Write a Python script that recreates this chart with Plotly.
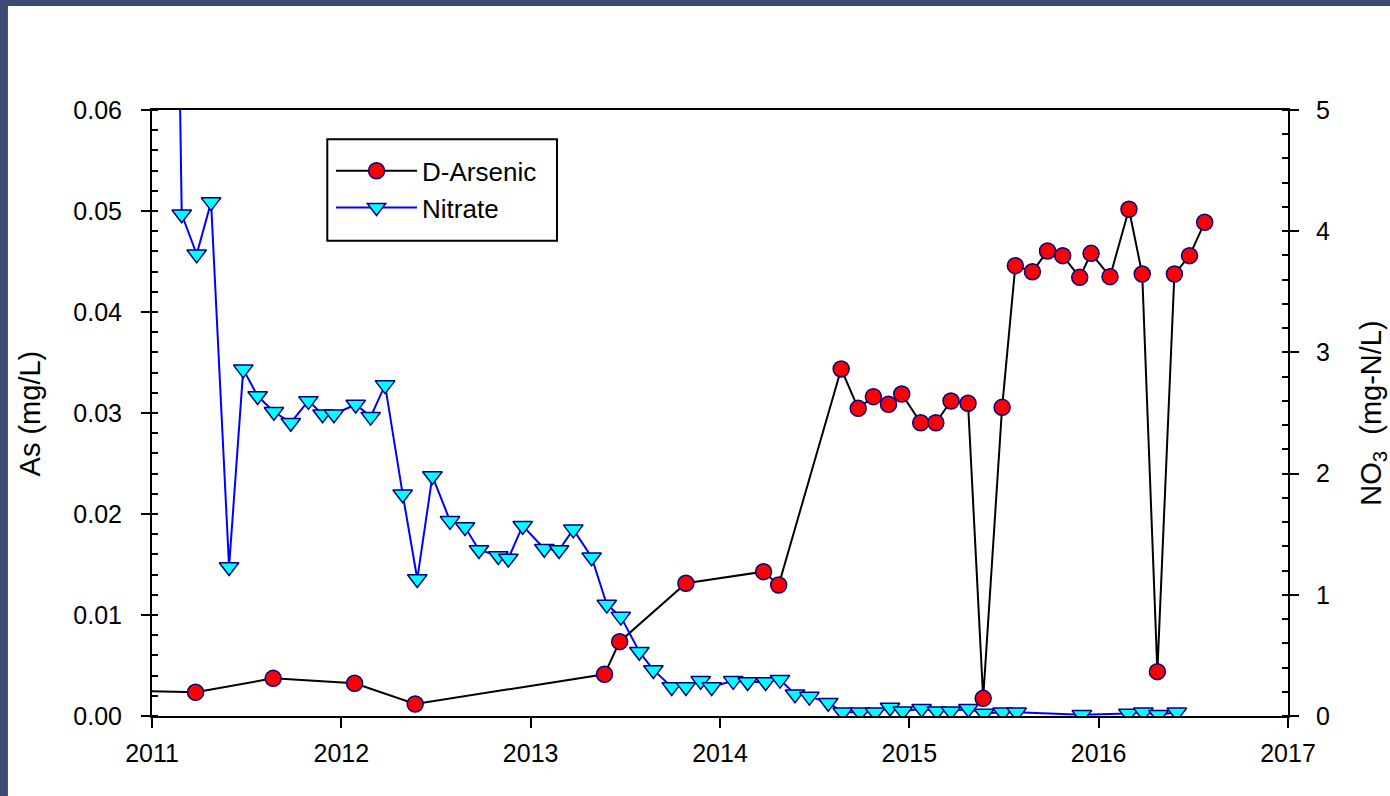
import plotly.graph_objects as go

# ---- data (decimal years) ----
as_year = [2010.90, 2011.23, 2011.64, 2012.07, 2012.39, 2013.39, 2013.47, 2013.82,
           2014.23, 2014.31, 2014.64, 2014.73, 2014.81, 2014.89, 2014.96, 2015.06,
           2015.14, 2015.22, 2015.31, 2015.39, 2015.49, 2015.56, 2015.65, 2015.73,
           2015.81, 2015.90, 2015.96, 2016.06, 2016.16, 2016.23, 2016.31, 2016.40,
           2016.48, 2016.56]
as_val = [0.0025, 0.00235, 0.00373, 0.00324, 0.00119, 0.00413, 0.00736, 0.01314,
          0.01429, 0.01297, 0.03436, 0.03046, 0.03162, 0.03086, 0.03188, 0.02904,
          0.02904, 0.03119, 0.03096, 0.00175, 0.03056, 0.04459, 0.04399, 0.04604,
          0.04558, 0.04343, 0.04581, 0.04350, 0.05017, 0.04376, 0.00439, 0.04376,
          0.04558, 0.04888]

no3_year = [2011.10, 2011.157, 2011.236, 2011.312, 2011.407, 2011.482, 2011.558, 2011.644,
            2011.733, 2011.826, 2011.901, 2011.961, 2012.076, 2012.155, 2012.231, 2012.324,
            2012.401, 2012.481, 2012.574, 2012.653, 2012.727, 2012.829, 2012.882, 2012.958,
            2013.072, 2013.150, 2013.225, 2013.322, 2013.402, 2013.476, 2013.574, 2013.648,
            2013.745, 2013.820, 2013.898, 2013.956, 2014.070, 2014.146, 2014.241, 2014.317,
            2014.396, 2014.472, 2014.572, 2014.648, 2014.740, 2014.819, 2014.898, 2014.965,
            2015.065, 2015.145, 2015.219, 2015.312, 2015.395, 2015.493, 2015.567, 2015.911,
            2016.157, 2016.236, 2016.316, 2016.413]
no3_val = [10.0, 4.14, 3.81, 4.24, 1.23, 2.86, 2.64, 2.51,
           2.42, 2.60, 2.49, 2.49, 2.57, 2.47, 2.73, 1.83,
           1.13, 1.98, 1.61, 1.56, 1.37, 1.32, 1.30, 1.57,
           1.38, 1.37, 1.54, 1.31, 0.92, 0.82, 0.53, 0.38,
           0.24, 0.24, 0.29, 0.24, 0.29, 0.28, 0.28, 0.30,
           0.18, 0.16, 0.11, 0.03, 0.03, 0.03, 0.07, 0.04,
           0.06, 0.04, 0.04, 0.06, 0.02, 0.03, 0.03, 0.01,
           0.02, 0.03, 0.01, 0.03]

year_ticks = [2011, 2012, 2013, 2014, 2015, 2016, 2017]
as_ticks = [0.00, 0.01, 0.02, 0.03, 0.04, 0.05, 0.06]
no3_ticks = [0, 1, 2, 3, 4, 5]

FONT = "Liberation Sans, Arial, sans-serif"
NAVY = "#000080"

fig = go.Figure()
fig.add_trace(go.Scatter(
    x=as_year, y=as_val, name="D-Arsenic", mode="lines+markers",
    line=dict(color="black", width=2),
    marker=dict(symbol="circle", size=16, color="#ff0000", line=dict(color=NAVY, width=1.5)),
    xaxis="x", yaxis="y"))
fig.add_trace(go.Scatter(
    x=no3_year, y=no3_val, name="Nitrate", mode="lines+markers",
    line=dict(color="#0000ff", width=2),
    marker=dict(symbol="triangle-down", size=17, color="#00ffff", line=dict(color=NAVY, width=1.5)),
    xaxis="x", yaxis="y2"))

axis_common = dict(showgrid=False, zeroline=False, linecolor="black", linewidth=2,
                   tickcolor="black", tickwidth=2,
                   tickfont=dict(family=FONT, size=25, color="black"))

fig.update_layout(
    width=1390, height=796,
    margin=dict(l=152, r=102, t=110, b=80),
    paper_bgcolor="#3b4b73", plot_bgcolor="white",
    font=dict(family=FONT, color="black"),
    showlegend=True,
    xaxis=dict(range=[2011, 2017], tickvals=year_ticks, tickformat="d",
               ticks="outside", ticklen=10, showline=True, mirror=True,
               ticklabelstandoff=4, **axis_common),
    xaxis2=dict(range=[2011, 2017], tickvals=year_ticks, overlaying="x", anchor="y",
                ticks="inside", ticklen=10, showline=True, mirror="ticks",
                showticklabels=False, **axis_common),
    yaxis=dict(range=[0, 0.06], tickvals=as_ticks, tickformat=".2f",
               ticks="outside", ticklen=9, showline=True,
               minor=dict(ticks="inside", dtick=0.002, ticklen=6, tickwidth=2, tickcolor="black"),
               ticklabelstandoff=14, **axis_common),
    yaxis3=dict(range=[0, 0.06], tickvals=as_ticks, overlaying="y", side="left",
                ticks="inside", ticklen=10, showline=True, showticklabels=False, **axis_common),
    yaxis2=dict(range=[0, 5], tickvals=no3_ticks, overlaying="y", side="right",
                ticks="outside", ticklen=9, showline=True,
                minor=dict(ticks="inside", dtick=0.2, ticklen=6, tickwidth=2, tickcolor="black"),
                ticklabelstandoff=12, **axis_common),
    yaxis4=dict(range=[0, 5], tickvals=no3_ticks, overlaying="y", side="right",
                ticks="inside", ticklen=9, showline=True, showticklabels=False, **axis_common),
    legend=dict(x=0.1576, y=0.9384, xanchor="left", yanchor="top",
                bgcolor="rgba(0,0,0,0)", borderwidth=0,
                font=dict(family=FONT, size=26, color="black"),
                itemwidth=81, tracegroupgap=0),
    shapes=[
        dict(type="rect", xref="paper", yref="paper", x0=-0.1268, x1=1.1,
             y0=-0.15, y1=1.1716, fillcolor="white", line=dict(width=0), layer="below"),
        dict(type="rect", xref="paper", yref="paper", x0=0.1543, x1=0.3565,
             y0=0.7843, y1=0.9516, fillcolor="white", line=dict(color="black", width=2),
             layer="below"),
    ],
    annotations=[
        dict(text="As (mg/L)", xref="paper", yref="paper", x=-0.107, y=0.5,
             xanchor="center", yanchor="middle", textangle=-90, showarrow=False,
             font=dict(family=FONT, size=29, color="black")),
        dict(text="NO<sub>3</sub>  (mg-N/L)", xref="paper", yref="paper", x=1.0745, y=0.5,
             xanchor="center", yanchor="middle", textangle=-90, showarrow=False,
             font=dict(family=FONT, size=29, color="black")),
    ],
)

fig.write_html("out.html", config={"displayModeBar": False},
               post_script="document.body.style.margin='0';")
